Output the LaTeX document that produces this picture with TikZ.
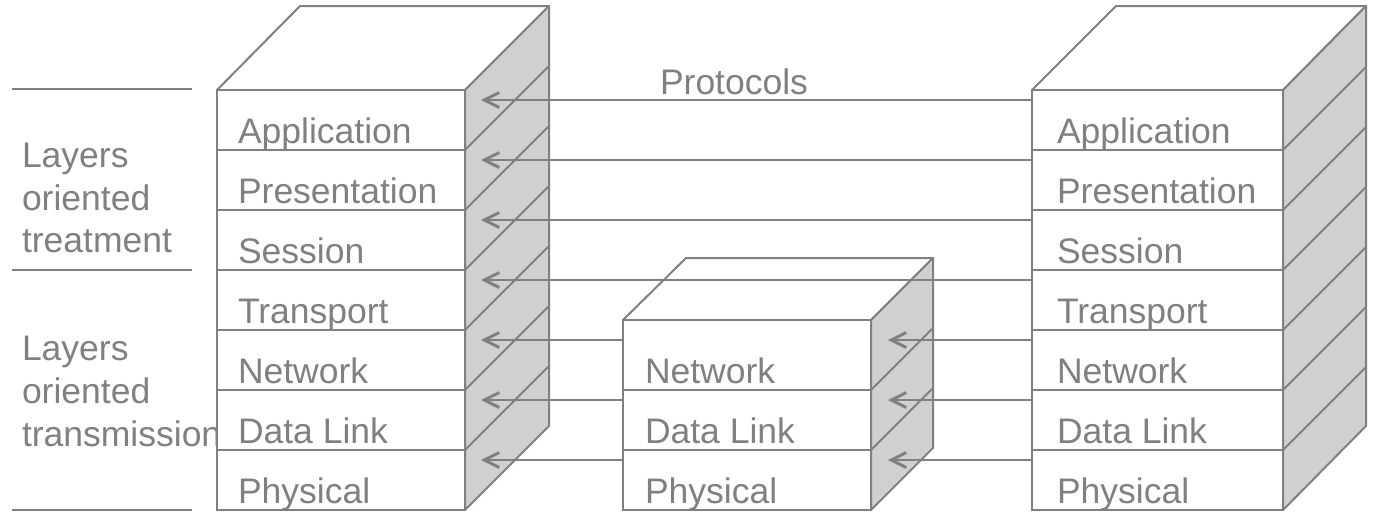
\documentclass[tikz,border=0pt]{standalone}
\usepackage{fontspec}
\setmainfont{Liberation Sans}
\usetikzlibrary{arrows.meta,calc}
\definecolor{lg}{RGB}{128,128,128}
\definecolor{fg}{RGB}{208,208,208}
\begin{document}
\begin{tikzpicture}[x=1pt,y=-1pt,
  layerbox/.style={draw=lg,fill=white,line width=2pt,inner sep=0pt,outer sep=0pt,anchor=north west,rectangle},
  lbl/.style={text=lg,font=\fontsize{35.5}{42}\selectfont,inner sep=0pt,outer sep=0pt,anchor=base west},
  sideface/.style={draw=lg,fill=fg,line width=2pt,line join=round},
  topface/.style={draw=lg,fill=white,line width=2pt,line join=round},
  edge/.style={draw=lg,line width=2pt},
  arr/.style={draw=lg,line width=2pt,-{Straight Barb[length=15pt,width=15pt,line width=3pt]}}]
\useasboundingbox (0,0) rectangle (1373,512);

% left labels
\draw[edge] (12,89) -- (192,89);
\draw[edge] (12,270) -- (192,270);
\draw[edge] (12,510) -- (192,510);
\node[lbl] (ta) at (22,167) {Layers};
\node[lbl] (tb) at (22,210) {oriented};
\node[lbl] (tc) at (22,252) {treatment};
\node[lbl] (td) at (22,360) {Layers};
\node[lbl] (te) at (22,403) {oriented};
\node[lbl] (tf) at (22,446) {transmission};

% left stack
\draw[topface] (217,90) -- (300,6) -- (549,6) -- (465,90) -- cycle;
\draw[sideface] (465,90) -- (549,6) -- (549,426) -- (465,510) -- cycle;
\foreach \yy in {150,210,270,330,390,450} \draw[edge] (465,\yy) -- ++(84,-84);
\foreach \t [count=\i] in {Application,Presentation,Session,Transport,Network,Data Link,Physical}{
  \node[layerbox,minimum width=248pt,minimum height=60pt] (L\i) at (217,{90+60*(\i-1)}) {};
  \node[lbl] (L\i t) at ($(L\i.south west)+(21,-7)$) {\t};
}

% right stack
\draw[topface] (1032,90) -- (1116,6) -- (1366,6) -- (1283,90) -- cycle;
\draw[sideface] (1283,90) -- (1366,6) -- (1366,426) -- (1283,510) -- cycle;
\foreach \yy in {150,210,270,330,390,450} \draw[edge] (1283,\yy) -- ++(83,-83);
\foreach \t [count=\i] in {Application,Presentation,Session,Transport,Network,Data Link,Physical}{
  \node[layerbox,minimum width=251pt,minimum height=60pt] (R\i) at (1032,{90+60*(\i-1)}) {};
  \node[lbl] (R\i t) at ($(R\i.south west)+(25,-7)$) {\t};
}

% middle stack
\draw[topface] (623,320) -- (686,258) -- (933,258) -- (871,320) -- cycle;
\draw[sideface] (871,320) -- (933,258) -- (933,448) -- (871,510) -- cycle;
\foreach \yy in {390,450} \draw[edge] (871,\yy) -- ++(62,-62);
\node[layerbox,minimum width=248pt,minimum height=70pt] (M1) at (623,320) {};
\node[layerbox,minimum width=248pt,minimum height=60pt] (M2) at (623,390) {};
\node[layerbox,minimum width=248pt,minimum height=60pt] (M3) at (623,450) {};
\node[lbl] (M1t) at ($(M1.south west)+(22,-7)$) {Network};
\node[lbl] (M2t) at ($(M2.south west)+(22,-7)$) {Data Link};
\node[lbl] (M3t) at ($(M3.south west)+(22,-7)$) {Physical};

% arrow tips
\coordinate (Ltip) at ($(L1.north east)+(16,0)$);
\coordinate (Mtip) at ($(M1.north east)+(17,0)$);
\foreach \k in {1,...,7}{
  \coordinate (A\k) at ($(R\k.north west)+(0,10)$);
}
\foreach \k in {1,2,3,4}{
  \draw[arr] (A\k) -- (A\k -| Ltip);
}
\foreach \k in {5,6,7}{
  \draw[arr] (A\k) -- (A\k -| Mtip);
  \draw[arr] (A\k -| M1.west) -- (A\k -| Ltip);
}

\node[lbl] (proto) at (660,94) {Protocols};
\end{tikzpicture}
\end{document}
